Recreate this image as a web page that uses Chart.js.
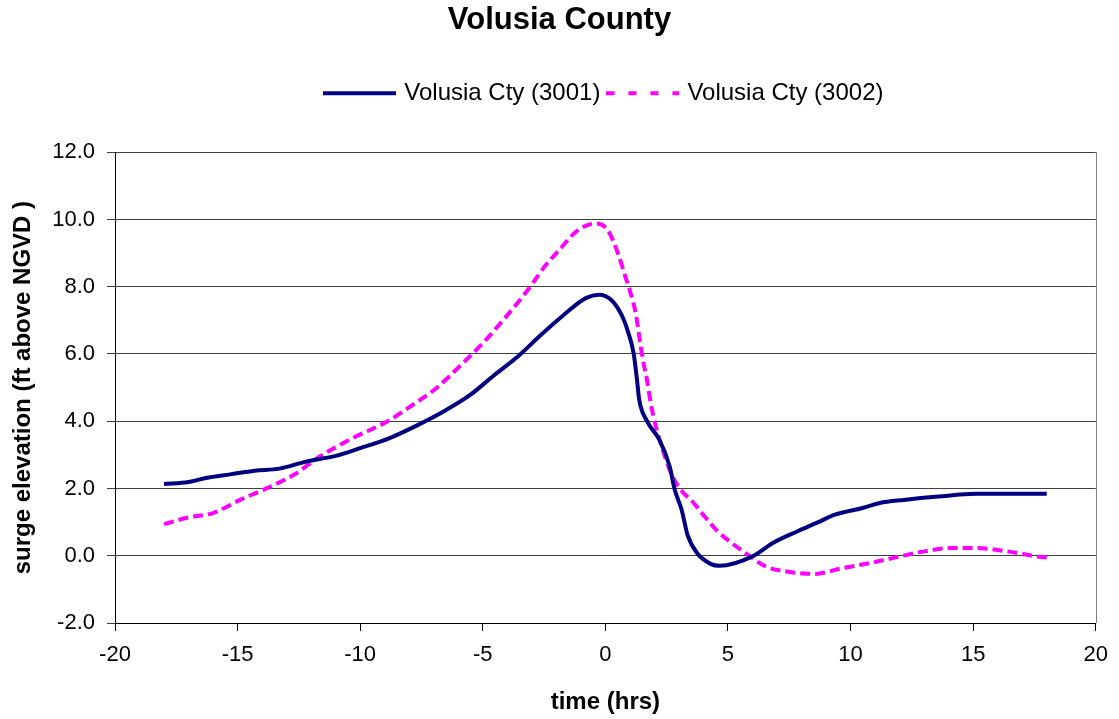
<!DOCTYPE html>
<html>
<head>
<meta charset="utf-8">
<title>Volusia County</title>
<script src="https://cdn.jsdelivr.net/npm/chart.js@4"></script>
<style>
  html, body { margin: 0; padding: 0; background: #fff; }
  #wrap { width: 1119px; height: 719px; }
</style>
</head>
<body>
<div id="wrap"><canvas id="surge-chart" width="1119" height="719"></canvas></div>
<script>
// time (hrs) and surge elevation (ft above NGVD)
const times3001 = [-18, -17, -16.3, -15.3, -14.3, -13.3, -12.2, -11, -10, -8.8, -7.7, -6.6, -5.5, -4.6, -3.5, -2.7, -1.7, -0.8, -0.25,
  0.23, 0.66, 0.94, 1.15, 1.29, 1.38, 1.71, 2.2, 2.62, 2.83, 3.11, 3.35, 3.74, 4.31, 4.66, 6.0, 6.83, 7.82, 8.66, 9.36, 10.49, 11.19,
  12.17, 13.58, 15.12, 18]
const values3001 = [2.13, 2.19, 2.31, 2.42, 2.53, 2.59, 2.80, 2.97, 3.20, 3.50, 3.87, 4.29, 4.79, 5.33, 5.97, 6.52, 7.16, 7.66, 7.76,
  7.61, 7.16, 6.62, 6.03, 5.23, 4.64, 3.99, 3.45, 2.66, 1.96, 1.37, 0.62, 0.08, -0.25, -0.30, -0.02, 0.38, 0.72, 0.99, 1.22, 1.42, 1.57,
  1.66, 1.76, 1.84, 1.84]

const times3002 = [-18, -17, -16, -14.9, -13.8, -12.7, -11.65, -10.3, -8.9, -7.85, -6.9, -5.95, -5.0, -4.05, -3.37, -2.96, -2.42, -1.87,
  -1.19, -0.38, 0.09, 0.51, 0.79, 1.03, 1.25, 1.38, 1.53, 1.71, 1.85, 2.06, 2.34, 2.62, 2.97, 3.6, 4.1, 4.59, 5.15, 5.71, 6.55, 7.4,
  8.52, 9.65, 10.77, 11.89, 13.01, 14.14, 15.12, 16.39, 17.79, 18]
const values3002 = [0.94, 1.14, 1.27, 1.66, 2.01, 2.41, 2.95, 3.50, 3.99, 4.49, 4.98, 5.63, 6.32, 7.11, 7.71, 8.11, 8.65, 9.10,
  9.64, 9.88, 9.69, 9.00, 8.35, 7.81, 7.16, 6.52, 5.83, 5.18, 4.54, 3.84, 3.15, 2.56, 2.06, 1.57, 1.12, 0.72, 0.38, 0.08, -0.32, -0.47,
  -0.54, -0.37, -0.22, -0.04, 0.13, 0.23, 0.23, 0.13, -0.04, -0.05]

const seriesNames = ['Volusia Cty (3001)', 'Volusia Cty (3002)']
const xTicks = [-20, -15, -10, -5, 0, 5, 10, 15, 20]
const yTicks = [-2, 0, 2, 4, 6, 8, 10, 12]

function toPoints(xs, ys) {
  return xs.map(function (x, i) { return { x: x, y: ys[i] } })
}

// little line sample for the legend (the built-in line style ignores dashes)
function lineSample(color, dash) {
  const c = document.createElement('canvas')
  c.width = 73
  c.height = 6
  const g = c.getContext('2d')
  g.strokeStyle = color
  g.lineWidth = 4
  g.setLineDash(dash)
  g.beginPath()
  g.moveTo(0, 3)
  g.lineTo(73, 3)
  g.stroke()
  return c
}

const font = "'Liberation Sans', Arial, sans-serif"
Chart.defaults.font.family = font
Chart.defaults.color = '#000'

// right edge of the plot box
const rightBorder = {
  id: 'rightBorder',
  afterDraw(chart) {
    const a = chart.chartArea
    const ctx = chart.ctx
    ctx.save()
    ctx.strokeStyle = '#808080'
    ctx.lineWidth = 1
    ctx.beginPath()
    ctx.moveTo(Math.round(a.right) + 0.5, a.top)
    ctx.lineTo(Math.round(a.right) + 0.5, a.bottom)
    ctx.stroke()
    ctx.restore()
  }
}

const canvas = document.querySelector('#surge-chart')
const surgeChart = new Chart(canvas, {
  type: 'line',
  data: {
    datasets: [
      {
        label: seriesNames[0],
        data: toPoints(times3001, values3001),
        borderColor: '#000080',
        backgroundColor: '#000080',
        borderWidth: 4,
        pointRadius: 0,
        pointStyle: lineSample('#000080', []),
        cubicInterpolationMode: 'monotone'
      },
      {
        label: seriesNames[1],
        data: toPoints(times3002, values3002),
        borderColor: '#ff00ff',
        backgroundColor: '#ff00ff',
        borderWidth: 4,
        borderDash: [10, 5],
        pointRadius: 0,
        pointStyle: lineSample('#ff00ff', [8, 14]),
        cubicInterpolationMode: 'monotone'
      }
    ]
  },
  options: {
    responsive: false,
    animation: false,
    layout: { padding: 0 },
    plugins: {
      title: {
        display: true,
        text: 'Volusia County',
        font: { size: 31, weight: 'bold' },
        padding: { top: 2, bottom: 32 }
      },
      legend: {
        display: true,
        fullSize: false,
        labels: {
          usePointStyle: true,
          pointStyleWidth: 65,
          padding: 10,
          font: { size: 24 },
          color: '#000'
        }
      },
      tooltip: { enabled: false }
    },
    scales: {
      x: {
        type: 'linear',
        min: -20,
        max: 20,
        afterBuildTicks: function (scale) { scale.ticks = xTicks.map(function (v) { return { value: v } }) },
        afterFit: function (scale) { scale.height = 96 },
        grid: { drawOnChartArea: false, drawTicks: true, tickLength: 8, color: '#000' },
        border: { display: true, color: '#000', width: 1 },
        ticks: { font: { size: 22 }, padding: 11, color: '#000', maxRotation: 0 },
        title: { display: true, text: 'time (hrs)', font: { size: 24, weight: 'bold' }, padding: { top: 0, bottom: 2 } }
      },
      top: {
        type: 'linear',
        position: 'top',
        min: -20,
        max: 20,
        afterFit: function (scale) { scale.height = 37 },
        grid: { display: false },
        border: { display: false },
        ticks: { display: false }
      },
      y: {
        type: 'linear',
        min: -2,
        max: 12,
        afterBuildTicks: function (scale) { scale.ticks = yTicks.map(function (v) { return { value: v } }) },
        afterFit: function (scale) { scale.width = 115 },
        grid: { color: '#404040', lineWidth: 1, tickLength: 8 },
        border: { display: true, color: '#000', width: 1 },
        ticks: {
          font: { size: 22 },
          padding: 12,
          color: '#000',
          callback: function (v) { return Number(v).toFixed(1) }
        },
        title: {
          display: true,
          text: 'surge elevation (ft above NGVD )',
          font: { size: 24, weight: 'bold' },
          padding: { top: 9, bottom: 0 }
        }
      },
      right: {
        type: 'linear',
        position: 'right',
        min: -2,
        max: 12,
        afterFit: function (scale) { scale.width = 22 },
        grid: { display: false },
        border: { display: false },
        ticks: { display: false }
      }
    }
  },
  plugins: [rightBorder]
})
</script>
</body>
</html>
